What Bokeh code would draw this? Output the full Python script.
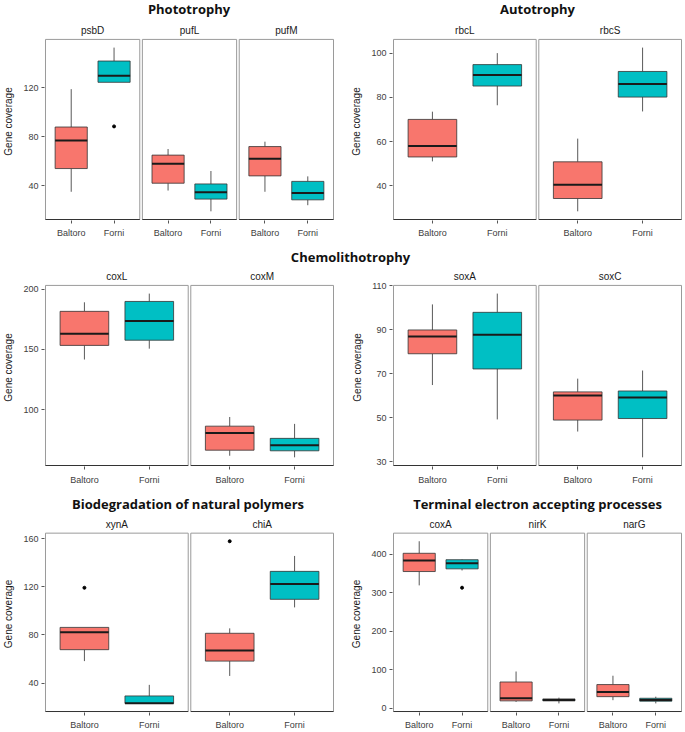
from bokeh.plotting import figure
from bokeh.layouts import column, row
from bokeh.models import Range1d, FixedTicker
from bokeh.embed import file_html
from bokeh.resources import INLINE
from bokeh.core.properties import value

# ---------------- data ----------------
groups = ["Baltoro", "Forni"]
group_colors = ["#F8766D", "#00BFC4"]

# box stats per gene: [lower whisker, Q1, median, Q3, upper whisker]
photo_genes = ["psbD", "pufL", "pufM"]
photo_baltoro = [[35, 54, 77, 88, 119], [36, 42, 58, 65, 70], [35, 48, 62, 72, 76]]
photo_forni = [[124.6, 124.6, 130, 142, 153], [19, 29, 34.6, 41.4, 52], [24, 28.4, 34, 43.5, 47.6]]
photo_outliers = [("psbD", "Forni", 88.5)]
photo_yticks = [40, 80, 120]

auto_genes = ["rbcL", "rbcS"]
auto_baltoro = [[51, 53, 58, 70, 73.5], [28.4, 34.2, 40.4, 50.8, 61.3]]
auto_forni = [[76.4, 85.1, 90.1, 94.8, 100], [73.6, 80.1, 86, 91.7, 102.5]]
auto_outliers = []
auto_yticks = [40, 60, 80, 100]

cox_genes = ["coxL", "coxM"]
cox_baltoro = [[141.6, 153.3, 163, 181.5, 189], [61.9, 66.5, 80.7, 86.4, 94]]
cox_forni = [[150.6, 157.6, 173.6, 189.7, 196.2], [60.6, 66, 70.6, 76.3, 88.3]]
cox_outliers = []
cox_yticks = [100, 150, 200]

sox_genes = ["soxA", "soxC"]
sox_baltoro = [[64.9, 79.1, 86.9, 89.9, 101.5], [43.8, 49, 60.2, 61.8, 67.8]]
sox_forni = [[49.3, 72.2, 87.7, 97.9, 106.4], [32.1, 49.7, 59.3, 62.2, 71.5]]
sox_outliers = []
sox_yticks = [30, 50, 70, 90, 110]

bio_genes = ["xynA", "chiA"]
bio_baltoro = [[58.3, 67.8, 82.2, 86.3, 86.3], [46, 58.3, 67.2, 81.4, 85.5]]
bio_forni = [[23.2, 23.2, 23.4, 29.4, 38.6], [102.9, 109.6, 122.4, 132.8, 145.6]]
bio_outliers = [("xynA", "Baltoro", 119.2), ("chiA", "Baltoro", 157.8)]
bio_yticks = [40, 80, 120, 160]

teap_genes = ["coxA", "nirK", "narG"]
teap_baltoro = [[319, 355, 384, 402.5, 433.8], [16, 18.6, 25.4, 67.7, 95], [20.4, 29.6, 41.5, 61, 84]]
teap_forni = [[357.8, 362, 376.6, 385.8, 387], [12, 18.6, 20.9, 23.7, 27], [12, 17.8, 21, 25.4, 29.5]]
teap_outliers = [("coxA", "Forni", 313)]
teap_yticks = [0, 100, 200, 300, 400]

titles_row1 = ["Phototrophy", "Autotrophy"]
titles_row2 = ["Chemolithotrophy"]
titles_row3 = ["Biodegradation of natural polymers", "Terminal electron accepting processes"]

FONT = "Liberation Sans"
TOTAL_W = 685


def section(genes, balt, forn, outs, yticks, width, height, bl, br, bt, bb, xstand):
    n = len(genes)
    span = 2.2
    gap_px = 2.6
    pad_px = 1.0
    frame_w = width - bl - br
    u = n * span / (frame_w - (n - 1) * gap_px - 2 * pad_px)
    gap = gap_px * u
    pitch = span + gap
    pad = pad_px * u
    total = n * span + (n - 1) * gap

    vals = [v for s in balt + forn for v in s] + [o[2] for o in outs]
    lo, hi = min(vals), max(vals)
    ext = (hi - lo) * 0.05
    lo, hi = lo - ext, hi + ext
    top_min = 2
    frame_h = height - top_min - bb
    panel_px = frame_h - (bt - top_min) - 1
    dpp = (hi - lo) / panel_px

    p = figure(width=width, height=height, output_backend="svg", toolbar_location=None,
               x_range=Range1d(-pad, total + pad),
               y_range=Range1d(lo - dpp, hi + (bt - top_min) * dpp),
               min_border_left=bl, min_border_right=br, min_border_top=top_min,
               min_border_bottom=bb)
    p.outline_line_color = None
    p.xgrid.visible = False
    p.ygrid.visible = False

    # panel borders
    lefts = [k * pitch for k in range(n)]
    rights = [k * pitch + span for k in range(n)]
    p.quad(left=lefts, right=rights, bottom=[lo] * n, top=[hi] * n,
           fill_color=None, line_color="#9a9a9a", line_width=1)
    p.segment(x0=lefts, y0=[lo] * n, x1=rights, y1=[lo] * n, line_color="#333333", line_width=1)

    # facet strip labels
    p.text(x=[k * pitch + span / 2 for k in range(n)], y=[hi] * n, text=genes,
           text_align="center", text_baseline="bottom", y_offset=-3,
           text_font=value(FONT), text_font_size="10px", text_color="#1a1a1a")

    tick_pos = []
    overrides = {}
    for g, stats in enumerate([balt, forn]):
        xs = [round(k * pitch + 0.6 + g, 6) for k in range(n)]
        lw = [s[0] for s in stats]
        q1 = [s[1] for s in stats]
        md = [s[2] for s in stats]
        q3 = [s[3] for s in stats]
        uw = [s[4] for s in stats]
        p.segment(x0=xs, y0=lw, x1=xs, y1=q1, line_color="#595959", line_width=1)
        p.segment(x0=xs, y0=q3, x1=xs, y1=uw, line_color="#595959", line_width=1)
        p.quad(left=[x - 0.375 for x in xs], right=[x + 0.375 for x in xs], bottom=q1, top=q3,
               fill_color=group_colors[g], line_color="#333333", line_width=0.8)
        p.segment(x0=[x - 0.375 for x in xs], y0=md, x1=[x + 0.375 for x in xs], y1=md,
                  line_color="#1a1a1a", line_width=2)
        for x in xs:
            tick_pos.append(x)
            overrides[x] = groups[g]

    if outs:
        ox = [round(genes.index(o[0]) * pitch + 0.6 + groups.index(o[1]), 6) for o in outs]
        oy = [o[2] for o in outs]
        p.scatter(x=ox, y=oy, size=3, color="black")

    xa = p.xaxis[0]
    xa.ticker = FixedTicker(ticks=sorted(tick_pos))
    xa.major_label_overrides = overrides
    ya = p.yaxis[0]
    ya.ticker = FixedTicker(ticks=yticks)
    ya.axis_label = "Gene coverage"
    ya.axis_label_text_font = FONT
    ya.axis_label_text_font_size = "10px"
    ya.axis_label_text_font_style = "normal"
    ya.axis_label_text_color = "#1a1a1a"
    ya.axis_label_standoff = 6
    for ax in (xa, ya):
        ax.axis_line_color = None
        ax.major_tick_in = 0
        ax.major_tick_out = 3
        ax.major_tick_line_color = "#555555"
        ax.minor_tick_line_color = None
        ax.major_label_text_font = FONT
        ax.major_label_text_font_size = "9px"
        ax.major_label_text_color = "#404040"
        ax.major_label_standoff = 3
    xa.major_label_standoff = xstand
    return p


def strip(height, xs, texts, y):
    s = figure(width=TOTAL_W, height=height, output_backend="svg", toolbar_location=None,
               x_range=Range1d(0, TOTAL_W), y_range=Range1d(0, height),
               x_axis_location=None, y_axis_location=None, min_border=0)
    s.outline_line_color = None
    s.xgrid.visible = False
    s.ygrid.visible = False
    s.text(x=xs, y=[y] * len(xs), text=texts, text_align="center", text_baseline="middle",
           text_font=value("Open Sans"), text_font_style="bold", text_font_size="13px",
           text_color="#111111")
    return s


LW, RW = 340, 345
LBL, LBR = 43, 6
RBL, RBR = 52, 3

s1 = strip(20, [188.5, 537], titles_row1, 12)
f1l = section(photo_genes, photo_baltoro, photo_forni, photo_outliers, photo_yticks, LW, 220, LBL, LBR, 19, 19, 4)
f1r = section(auto_genes, auto_baltoro, auto_forni, auto_outliers, auto_yticks, RW, 220, RBL, RBR, 19, 19, 4)

s2 = strip(26, [350], titles_row2, 10)
f2l = section(cox_genes, cox_baltoro, cox_forni, cox_outliers, cox_yticks, LW, 221, LBL, LBR, 19, 20, 5)
f2r = section(sox_genes, sox_baltoro, sox_forni, sox_outliers, sox_yticks, RW, 221, RBL, RBR, 19, 20, 5)

s3 = strip(26, [187.5, 537], titles_row3, 10)
f3l = section(bio_genes, bio_baltoro, bio_forni, bio_outliers, bio_yticks, LW, 219, LBL, LBR, 20, 16, 4)
f3r = section(teap_genes, teap_baltoro, teap_forni, teap_outliers, teap_yticks, RW, 219, RBL, RBR, 20, 16, 4)

layout = column(s1, row(f1l, f1r), s2, row(f2l, f2r), s3, row(f3l, f3r))

open("out.html", "w").write(file_html(layout, INLINE))
